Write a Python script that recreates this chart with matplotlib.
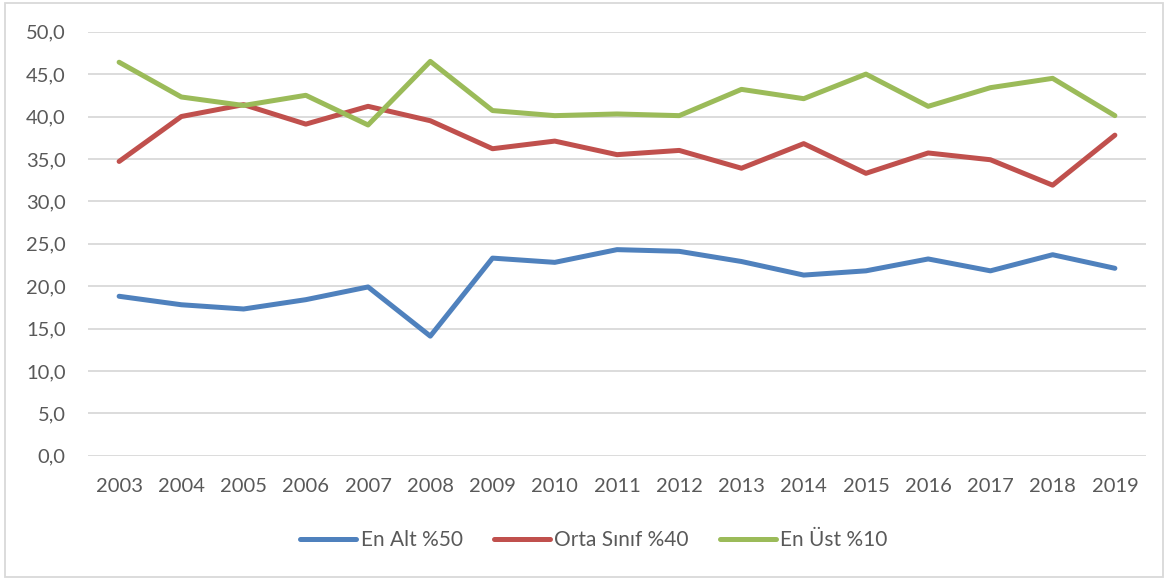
import matplotlib
matplotlib.use("Agg")
import matplotlib.pyplot as plt
from matplotlib.patches import Rectangle
from matplotlib.ticker import FuncFormatter, MultipleLocator

years = [str(y) for y in range(2003, 2020)]
en_alt_50 = [18.8, 17.8, 17.3, 18.4, 19.9, 14.1, 23.3, 22.8, 24.3, 24.1,
             22.9, 21.3, 21.8, 23.2, 21.8, 23.7, 22.1]
orta_sinif_40 = [34.7, 40.0, 41.4, 39.1, 41.2, 39.5, 36.2, 37.1, 35.5, 36.0,
                 33.9, 36.8, 33.3, 35.7, 34.9, 31.9, 37.8]
en_ust_10 = [46.4, 42.3, 41.3, 42.5, 39.0, 46.5, 40.7, 40.1, 40.3, 40.1,
             43.2, 42.1, 45.0, 41.2, 43.4, 44.5, 40.1]

series_names = ["En Alt %50", "Orta Sınıf %40", "En Üst %10"]
colors = ["#4F81BD", "#C0504D", "#9BBB59"]
text_color = "#595959"

plt.rcParams["font.family"] = ["Lato", "DejaVu Sans"]

fig = plt.figure(figsize=(11.69, 5.82), dpi=100)
ax = fig.add_axes([88 / 1169, 1 - 455.7 / 582, (1146 - 88) / 1169, (455.7 - 31.7) / 582])

x = list(range(len(years)))
for vals, name, c in zip([en_alt_50, orta_sinif_40, en_ust_10], series_names, colors):
    ax.plot(x, vals, color=c, linewidth=3.6, label=name, solid_capstyle="round",
            solid_joinstyle="round", zorder=3)

ax.set_ylim(0, 50)
ax.set_xlim(-0.5, len(years) - 0.5)
ax.yaxis.set_major_locator(MultipleLocator(5))
ax.yaxis.set_major_formatter(FuncFormatter(lambda v, p: f"{v:.1f}".replace(".", ",")))
ax.set_xticks(x)
ax.set_xticklabels(years)
ax.grid(axis="y", color="#D9D9D9", linewidth=1.3, zorder=0)
ax.tick_params(axis="both", length=0, labelsize=14.5, colors=text_color)
ax.tick_params(axis="y", pad=16)
ax.tick_params(axis="x", pad=16)
for s in ax.spines.values():
    s.set_visible(False)

fig.legend(loc="center", bbox_to_anchor=(594 / 1169, 1 - 540 / 582), ncol=3,
           frameon=False, fontsize=15, handlelength=2.7, handletextpad=0.2,
           columnspacing=1.5, labelcolor=text_color)

fig.patches.append(Rectangle((5 / 1169, 5 / 582), 1158 / 1169, 574 / 582,
                             transform=fig.transFigure, fill=False,
                             edgecolor="#D9D9D9", linewidth=1.3))

fig.savefig("out.png", dpi=100)
